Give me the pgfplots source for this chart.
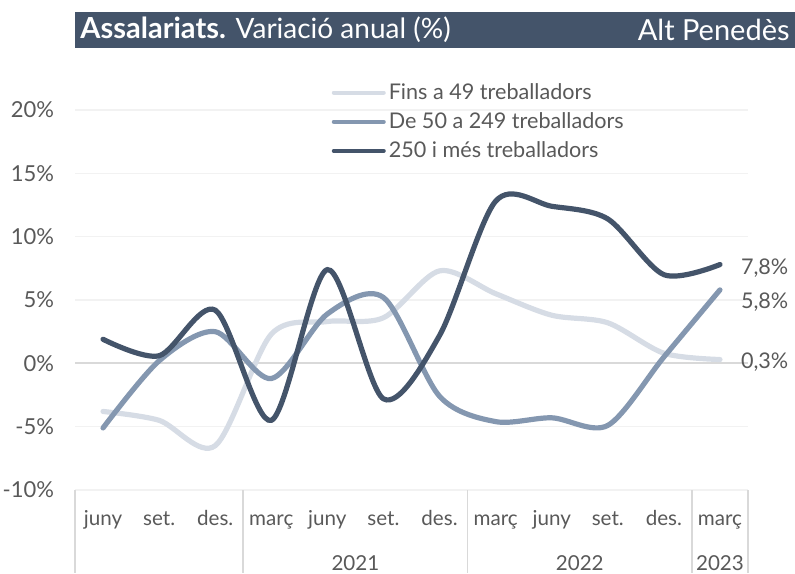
\documentclass[border=0pt]{standalone}
\usepackage{fontspec}
\setmainfont{Lato}
\usepackage{pgfplots}
\pgfplotsset{compat=1.18}
\definecolor{c1}{HTML}{D6DCE5}
\definecolor{c2}{HTML}{8497B0}
\definecolor{c3}{HTML}{44546A}
\definecolor{txt}{HTML}{595959}
\definecolor{gridc}{HTML}{F2F2F2}
\definecolor{zeroc}{HTML}{D9D9D9}
\begin{document}
\begin{tikzpicture}
\useasboundingbox (0,0) rectangle (397.5pt,286.5pt);
% title bar
\fill[c3] (37.5pt,262.5pt) rectangle (397.5pt,280.5pt);
\node[anchor=west, text=white, font=\fontsize{14.5}{16}\selectfont, inner sep=0pt] at (40pt,271.5pt)
  {{\bfseries Assalariats.} {\fontsize{14}{16}\selectfont Variació anual (\%)}};
\node[anchor=east, text=white, font=\fontsize{14.5}{16}\selectfont, inner sep=0pt] at (395pt,271.5pt)
  {Alt Penedès};
\begin{axis}[
  at={(37.5pt,41.5pt)}, anchor=south west,
  scale only axis, width=336.5pt, height=190pt,
  xmin=-0.5, xmax=11.5, ymin=-10, ymax=20,
  ytick={-10,-5,...,20},
  yticklabel={\pgfmathprintnumber{\tick}\%},
  /pgf/number format/assume math mode=true,
  xtick={0,...,11},
  xticklabels={juny,set.,des.,març,juny,set.,des.,març,juny,set.,des.,març},
  axis line style={draw=none},
  major tick length=0pt,
  ymajorgrids,
  major grid style={gridc, line width=0.8pt},
  extra y ticks={0}, extra y tick labels={},
  extra y tick style={major grid style={zeroc, line width=1pt}},
  tick label style={text=txt},
  yticklabel style={font=\fontsize{11}{13}\selectfont, xshift=-7pt},
  xticklabel style={font=\fontsize{10.3}{12}\selectfont, anchor=base, yshift=-17.5pt},
  clip=false,
  legend style={at={(axis description cs:0.372,1.09)}, anchor=north west,
    draw=none, fill=none, font=\fontsize{10.8}{13}\selectfont, text=txt,
    row sep=2.1pt, nodes={inner sep=1.5pt}},
  legend cell align=left,
  legend image code/.code={\draw[#1, line width=2pt, line cap=round] (0pt,0pt) -- (25pt,0pt);},
]
\addplot[c1, line width=2.6pt, smooth, line cap=round] coordinates {
  (0,-3.8) (1,-4.5) (2,-6.5) (3,2.3) (4,3.3) (5,3.6)
  (6,7.3) (7,5.5) (8,3.8) (9,3.2) (10,0.8) (11,0.3)};
\addlegendentry{Fins a 49 treballadors}
\addplot[c2, line width=2.6pt, smooth, line cap=round] coordinates {
  (0,-5.1) (1,0.2) (2,2.5) (3,-1.2) (4,3.9) (5,5.2)
  (6,-2.6) (7,-4.6) (8,-4.3) (9,-4.9) (10,0.5) (11,5.8)};
\addlegendentry{De 50 a 249 treballadors}
\addplot[c3, line width=2.6pt, smooth, line cap=round] coordinates {
  (0,1.9) (1,0.6) (2,4.2) (3,-4.5) (4,7.4) (5,-2.8)
  (6,2.2) (7,12.8) (8,12.4) (9,11.4) (10,7.0) (11,7.8)};
\addlegendentry{250 i més treballadors}
% end labels
\node[anchor=west, text=txt, font=\fontsize{10.8}{12}\selectfont, xshift=7pt, yshift=-2pt] at (axis cs:11,7.8) {7,8\%};
\node[anchor=west, text=txt, font=\fontsize{10.8}{12}\selectfont, xshift=7pt, yshift=-6pt] at (axis cs:11,5.8) {5,8\%};
\node[anchor=west, text=txt, font=\fontsize{10.8}{12}\selectfont, xshift=7pt, yshift=-1.5pt] at (axis cs:11,0.3) {0,3\%};
% category separators
\pgfplotsinvokeforeach{-0.5,2.5,6.5,10.5,11.5}{
  \draw[zeroc, line width=0.8pt] (axis cs:#1,-10) -- ([yshift=-41.5pt]axis cs:#1,-10);
}
% years
\node[text=txt, font=\fontsize{10.3}{12}\selectfont, yshift=-36.5pt] at (axis cs:4.5,-10) {2021};
\node[text=txt, font=\fontsize{10.3}{12}\selectfont, yshift=-36.5pt] at (axis cs:8.5,-10) {2022};
\node[text=txt, font=\fontsize{10.3}{12}\selectfont, yshift=-36.5pt] at (axis cs:11,-10) {2023};
\end{axis}
\end{tikzpicture}
\end{document}
